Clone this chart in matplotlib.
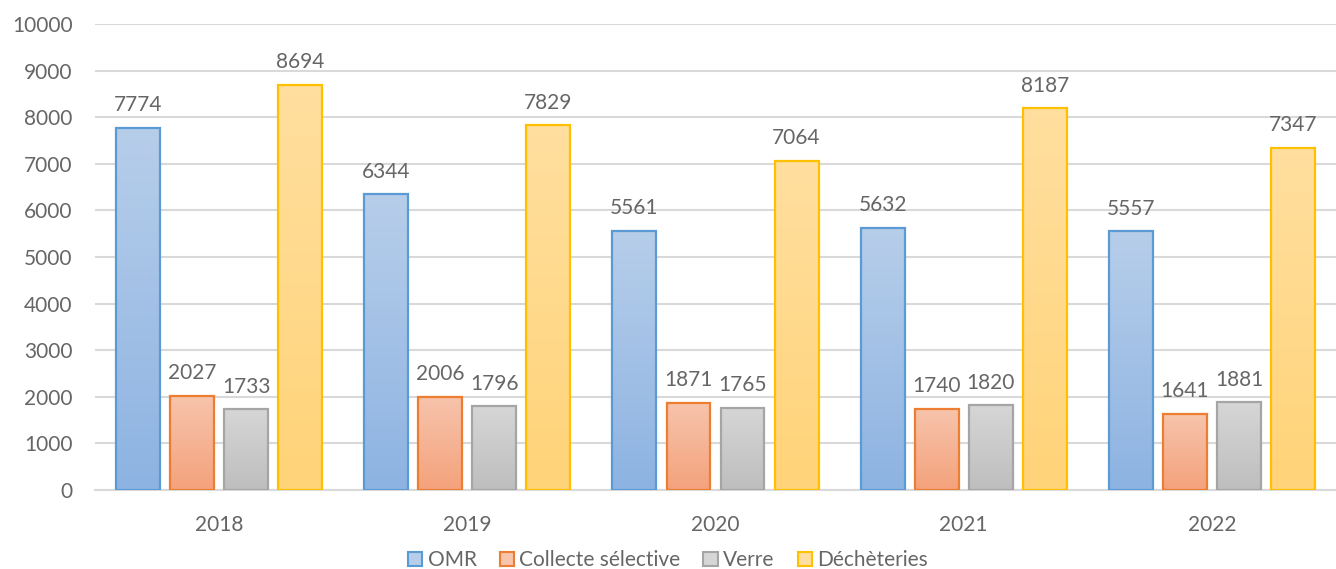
import numpy as np
import matplotlib.pyplot as plt
from matplotlib.patches import Rectangle
from matplotlib.colors import LinearSegmentedColormap

plt.rcParams['font.family'] = ['Lato', 'DejaVu Sans']

years = ['2018', '2019', '2020', '2021', '2022']
series = ['OMR', 'Collecte sélective', 'Verre', 'Déchèteries']
omr = [7774, 6344, 5561, 5632, 5557]
collecte = [2027, 2006, 1871, 1740, 1641]
verre = [1733, 1796, 1765, 1820, 1881]
decheteries = [8694, 7829, 7064, 8187, 7347]

# (top colour, bottom colour, edge colour) per series
styles = [
    ('#B7CEEA', '#8DB3E2', '#5B9BD5'),
    ('#F7C4AC', '#F4A27C', '#ED7D31'),
    ('#D6D6D6', '#BEBEBE', '#A5A5A5'),
    ('#FFDF9F', '#FFD378', '#FFC000'),
]
text_col = '#666666'

fig = plt.figure(figsize=(13.36, 5.69), dpi=100)
ax = fig.add_axes([95 / 1336, 79 / 569, 1241 / 1336, 466 / 569])

x = np.arange(len(years))
width = 0.177
step = 0.2177
values = [omr, collecte, verre, decheteries]

for i, (vals, (top, bot, edge)) in enumerate(zip(values, styles)):
    cmap = LinearSegmentedColormap.from_list('g%d' % i, [bot, top])
    grad = np.linspace(0, 1, 256).reshape(-1, 1)
    pos = x + (i - 1.5) * step
    bars = ax.bar(pos, vals, width, facecolor='none', edgecolor=edge,
                  linewidth=1.6, zorder=3)
    for b, v in zip(bars, vals):
        x0, w = b.get_x(), b.get_width()
        im = ax.imshow(grad, cmap=cmap, origin='lower', aspect='auto',
                       extent=[x0, x0 + w, 0, v], zorder=2)
        im.set_clip_path(b)
        ax.annotate(str(v), (x0 + w / 2, v), xytext=(0, 9),
                    textcoords='offset points', ha='center', va='bottom',
                    fontsize=15, color=text_col)

ax.set_xlim(-0.5, 4.5)
ax.set_ylim(0, 10000)
ax.set_yticks(range(0, 10001, 1000))
ax.set_xticks(x)
ax.set_xticklabels(years)
ax.tick_params(length=0, labelsize=15, labelcolor=text_col, pad=18)
ax.tick_params(axis='y', pad=16)
ax.grid(axis='y', color='#D9D9D9', linewidth=1.5, zorder=0)
for s in ['top', 'right', 'left']:
    ax.spines[s].set_visible(False)
ax.spines['bottom'].set_color('#D9D9D9')
ax.spines['bottom'].set_linewidth(1.5)

handles = [Rectangle((0, 0), 1, 1, facecolor=top, edgecolor=edge, linewidth=1.5)
           for top, bot, edge in styles]
fig.legend(handles, series, loc='lower center', bbox_to_anchor=(0.5, -0.035),
           ncol=4, frameon=False, fontsize=15, labelcolor=text_col,
           handlelength=0.7, handleheight=0.7, handletextpad=0.25,
           columnspacing=1.1)

fig.savefig('out.png', dpi=100)
